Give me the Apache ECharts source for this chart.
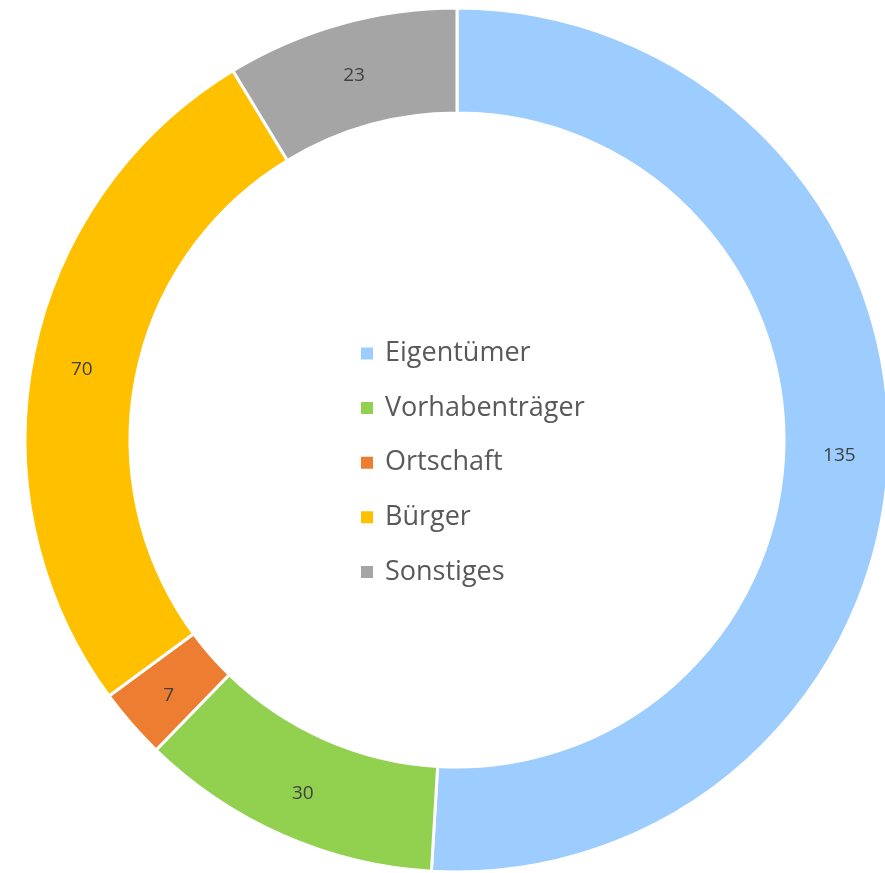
<!DOCTYPE html>
<html>
<head>
<meta charset="utf-8">
<script src="https://cdn.jsdelivr.net/npm/echarts@6/dist/echarts.min.js"></script>
<style>
  html, body { margin: 0; padding: 0; background: #fff; }
  #chart { width: 885px; height: 873px; }
</style>
</head>
<body>
<div id="chart"></div>
<script>
  // 分类与数值
  var categories = ['Eigentümer', 'Vorhabenträger', 'Ortschaft', 'Bürger', 'Sonstiges'];
  var values = [135, 30, 7, 70, 23];
  var colors = ['#9DCCFE', '#92D050', '#ED7D31', '#FFC000', '#A5A5A5'];

  var pieData = categories.map(function (name, i) {
    return { name: name, value: values[i] };
  });

  var chart = echarts.init(document.getElementById('chart'));
  var option = {
    animation: false,
    color: colors,
    legend: {
      orient: 'vertical',
      left: 354,
      top: 335,
      itemWidth: 14,
      itemHeight: 14,
      itemGap: 27.6,
      icon: 'rect',
      textStyle: {
        fontFamily: 'Open Sans',
        fontSize: 27,
        lineHeight: 27,
        color: '#595959',
        padding: [0, 0, 0, 6]
      },
      data: categories
    },
    series: [
      {
        type: 'pie',
        center: [457, 440],
        radius: [327, 432],
        startAngle: 90,
        clockwise: true,
        itemStyle: {
          borderColor: '#fff',
          borderWidth: 3
        },
        label: {
          show: true,
          position: 'inside',
          formatter: '{v|{c}}',
          rich: {
            v: {
              fontFamily: 'Open Sans',
              fontSize: 19,
              color: '#404040',
              padding: [8, 0, 0, 0]
            }
          }
        },
        labelLine: { show: false },
        emphasis: { disabled: true },
        data: pieData
      }
    ]
  };
  chart.setOption(option);
</script>
</body>
</html>
